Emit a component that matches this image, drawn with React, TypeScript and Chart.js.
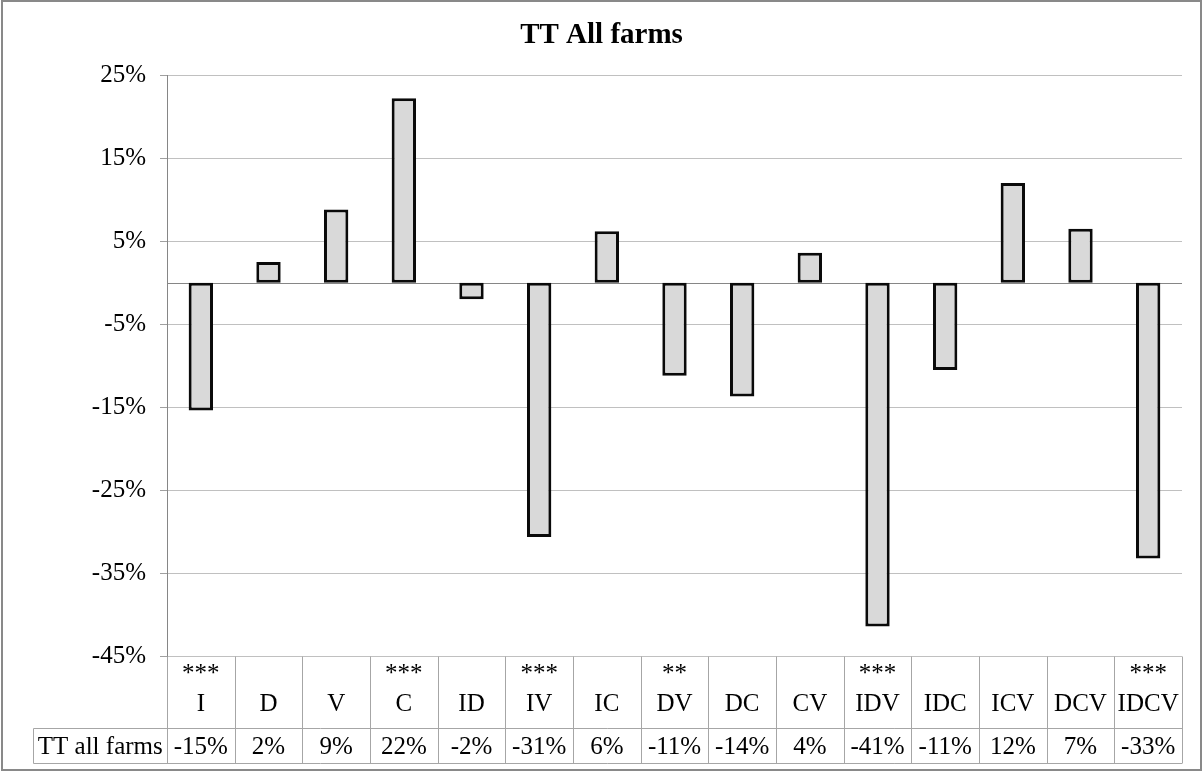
import React, { useEffect, useRef } from "react";
import { Chart, registerables } from "chart.js";

Chart.register(...registerables);

const title = "TT All farms";
const seriesName = "TT all farms";
const categories = ["I", "D", "V", "C", "ID", "IV", "IC", "DV", "DC", "CV", "IDV", "IDC", "ICV", "DCV", "IDCV"];
const significance = ["***", "", "", "***", "", "***", "", "**", "", "", "***", "", "", "", "***"];
const values = [-15.4, 2.5, 8.8, 22.2, -2.0, -30.6, 6.2, -11.2, -13.7, 3.6, -41.4, -10.5, 12.0, 6.5, -33.2];
const tableLabels = ["-15%", "2%", "9%", "22%", "-2%", "-31%", "6%", "-11%", "-14%", "4%", "-41%", "-11%", "12%", "7%", "-33%"];
const yTicksMin = -45;
const yTicksMax = 25;
const yStep = 10;

const FONT = "'Liberation Serif', 'Times New Roman', serif";

export default function App() {
  const ref = useRef<HTMLCanvasElement | null>(null);

  useEffect(() => {
    const canvas = ref.current;
    if (!canvas) return;

    const framePlugin = {
      id: "frame",
      beforeDraw(chart: any) {
        const ctx = chart.ctx;
        ctx.save();
        ctx.fillStyle = "#ffffff";
        ctx.fillRect(0, 0, chart.width, chart.height);
        ctx.fillStyle = "#000000";
        ctx.font = `bold 29px ${FONT}`;
        ctx.textAlign = "center";
        ctx.textBaseline = "alphabetic";
        ctx.fillText(title, chart.width / 2, 42.5);
        ctx.restore();
      },
      beforeDatasetsDraw(chart: any) {
        const ctx = chart.ctx;
        const y = chart.scales.y;
        const area = chart.chartArea;
        const y0 = Math.round(y.getPixelForValue(0)) + 0.5;
        ctx.save();
        ctx.strokeStyle = "#868686";
        ctx.lineWidth = 1;
        ctx.beginPath();
        ctx.moveTo(area.left, y0);
        ctx.lineTo(area.right, y0);
        ctx.stroke();
        ctx.restore();
      },
      afterDraw(chart: any) {
        const ctx = chart.ctx;
        const x = chart.scales.x;
        const area = chart.chartArea;
        const n = categories.length;
        const colW = (area.right - area.left) / n;
        const tableTop = area.bottom;
        const rowTop = 728.5;
        const rowBottom = 763.5;
        const labelLeft = 33.5;
        ctx.save();
        ctx.strokeStyle = "#a6a6a6";
        ctx.lineWidth = 1;
        ctx.beginPath();
        for (let k = 0; k <= n; k++) {
          const px = Math.round(area.left + k * colW) + 0.5;
          ctx.moveTo(px, tableTop);
          ctx.lineTo(px, rowBottom);
        }
        ctx.moveTo(labelLeft, rowTop);
        ctx.lineTo(labelLeft, rowBottom);
        ctx.moveTo(labelLeft, rowTop);
        ctx.lineTo(area.right, rowTop);
        ctx.moveTo(labelLeft, rowBottom);
        ctx.lineTo(area.right, rowBottom);
        ctx.stroke();

        ctx.fillStyle = "#000000";
        ctx.font = `25px ${FONT}`;
        ctx.textBaseline = "middle";
        ctx.textAlign = "center";
        const ty = (rowTop + rowBottom) / 2 + 1;
        for (let i = 0; i < n; i++) {
          ctx.fillText(tableLabels[i], x.getPixelForValue(i), ty);
        }
        ctx.fillText(seriesName, (labelLeft + area.left) / 2, ty);

        ctx.strokeStyle = "#898989";
        ctx.lineWidth = 2;
        ctx.strokeRect(2, 1, 1199, 769);
        ctx.restore();
      },
    };

    const chart = new Chart(canvas, {
      type: "bar",
      data: {
        labels: categories.map((c, i) => [significance[i], c]),
        datasets: [
          {
            label: seriesName,
            data: values,
            backgroundColor: "#d9d9d9",
            borderColor: "#0a0a0a",
            borderWidth: 3,
            borderSkipped: false,
            barPercentage: 0.36,
            categoryPercentage: 1,
          },
        ],
      },
      options: {
        responsive: false,
        animation: false,
        layout: { padding: { left: 0, right: 21, top: 75, bottom: 0 } },
        plugins: {
          legend: { display: false },
          tooltip: { enabled: false },
          title: { display: false },
        },
        scales: {
          x: {
            offset: true,
            grid: { display: false, drawTicks: false },
            border: { display: false },
            ticks: {
              color: "#000000",
              font: { family: FONT, size: 25, lineHeight: 1.2 },
              padding: 3,
              maxRotation: 0,
              minRotation: 0,
              autoSkip: false,
            },
            afterFit(scale: any) {
              scale.height = 115.5;
            },
          },
          y: {
            min: yTicksMin,
            max: yTicksMax,
            grid: {
              color: "#c0c0c0",
              lineWidth: 1,
              drawTicks: true,
              tickLength: 7,
              tickColor: "#a0a0a0",
            },
            border: { display: true, color: "#868686", width: 1 },
            ticks: {
              stepSize: yStep,
              color: "#000000",
              font: { family: FONT, size: 25 },
              padding: 14,
              callback: (v: any) => `${v}%`,
            },
            afterFit(scale: any) {
              scale.width = 167;
            },
          },
        },
      },
      plugins: [framePlugin],
    } as any);

    return () => chart.destroy();
  }, []);

  return (
    <div style={{ position: "fixed", left: 0, top: 0, width: 1203, height: 772, background: "#fff" }}>
      <canvas ref={ref} width={1203} height={772} style={{ display: "block", width: 1203, height: 772 }} />
    </div>
  );
}
